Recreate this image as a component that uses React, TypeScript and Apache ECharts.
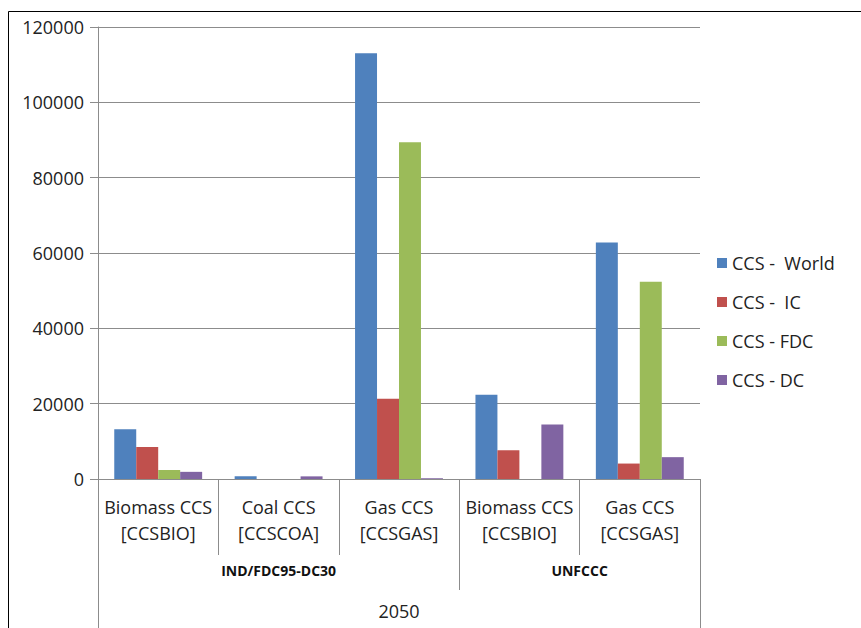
import React, { useEffect, useRef } from "react";
import * as echarts from "echarts";

const categories = [
  "Biomass CCS\n[CCSBIO]",
  "Coal CCS\n[CCSCOA]",
  "Gas CCS\n[CCSGAS]",
  "Biomass CCS\n[CCSBIO]",
  "Gas CCS\n[CCSGAS]",
];
const groupLabels = ["IND/FDC95-DC30", "UNFCCC"];
const yearLabel = "2050";
const seriesNames = ["CCS -  World", "CCS -  IC", "CCS - FDC", "CCS - DC"];
const world = [13200, 700, 113000, 22400, 62800];
const ic = [8500, 0, 21300, 7600, 4100];
const fdc = [2400, 0, 89400, 0, 52400];
const dc = [1900, 700, 200, 14500, 5800];
const colors = ["#4F81BD", "#C0504D", "#9BBB59", "#8064A2"];
const yTicks = [0, 20000, 40000, 60000, 80000, 100000, 120000];

const FONT = "'Open Sans', sans-serif";
const GRAY = "#8c8c8c";

export default function App() {
  const ref = useRef<HTMLDivElement>(null);
  useEffect(() => {
    if (!ref.current) return;
    const chart = echarts.init(ref.current, undefined, { renderer: "svg" });
    const values = [world, ic, fdc, dc];
    chart.setOption({
      animation: false,
      backgroundColor: "#ffffff",
      textStyle: { fontFamily: FONT },
      grid: { left: 98, right: 161, top: 27, bottom: 149, containLabel: false },
      legend: {
        orient: "vertical",
        left: 712,
        top: 249,
        itemWidth: 10,
        itemHeight: 10,
        itemGap: 21,
        icon: "rect",
        textStyle: { fontFamily: FONT, fontSize: 18, color: "#222" },
        data: seriesNames,
      },
      xAxis: [
        {
          type: "category",
          data: categories,
          axisLine: { show: true, lineStyle: { color: GRAY } },
          axisTick: { show: true, interval: 0, length: 76, lineStyle: { color: GRAY } },
          axisLabel: {
            interval: 0,
            margin: 15,
            fontSize: 18,
            lineHeight: 26,
            color: "#222",
            fontFamily: FONT,
          },
        },
        {
          type: "value",
          min: 0,
          max: 5,
          position: "bottom",
          axisLine: { show: false },
          splitLine: { show: false },
          axisTick: {
            show: true,
            length: 111,
            customValues: [3],
            lineStyle: { color: GRAY },
          },
          axisLabel: {
            show: true,
            customValues: [1.5, 4],
            margin: 84,
            fontSize: 14,
            fontWeight: "bold",
            color: "#111",
            fontFamily: FONT,
            formatter: (v: number) => (v < 3 ? groupLabels[0] : groupLabels[1]),
          },
        },
        {
          type: "value",
          min: 0,
          max: 5,
          position: "bottom",
          axisLine: { show: false },
          splitLine: { show: false },
          axisTick: {
            show: true,
            length: 160,
            customValues: [0, 5],
            lineStyle: { color: GRAY },
          },
          axisLabel: {
            show: true,
            customValues: [2.5],
            margin: 123,
            fontSize: 18,
            color: "#222",
            fontFamily: FONT,
            formatter: () => yearLabel,
          },
        },
      ],
      yAxis: {
        type: "value",
        min: yTicks[0],
        max: yTicks[yTicks.length - 1],
        interval: 20000,
        axisLine: { show: true, lineStyle: { color: GRAY } },
        axisTick: { show: true, length: 8, lineStyle: { color: GRAY } },
        splitLine: { show: true, lineStyle: { color: GRAY, width: 1 } },
        axisLabel: {
          margin: 14,
          fontSize: 18,
          color: "#222",
          fontFamily: FONT,
          formatter: (v: number) => String(v),
        },
      },
      graphic: [
        {
          type: "rect",
          shape: { x: 8.5, y: 11.5, width: 900, height: 700 },
          style: { fill: "none", stroke: "#000", lineWidth: 1 },
          silent: true,
        },
      ],
      series: seriesNames.map((name, i) => ({
        name,
        type: "bar",
        xAxisIndex: 0,
        data: values[i],
        barGap: "0%",
        barCategoryGap: "27%",
        itemStyle: { color: colors[i] },
      })),
    });
    return () => chart.dispose();
  }, []);
  return (
    <div
      ref={ref}
      style={{ position: "fixed", left: 0, top: 0, width: 861, height: 628 }}
    />
  );
}
